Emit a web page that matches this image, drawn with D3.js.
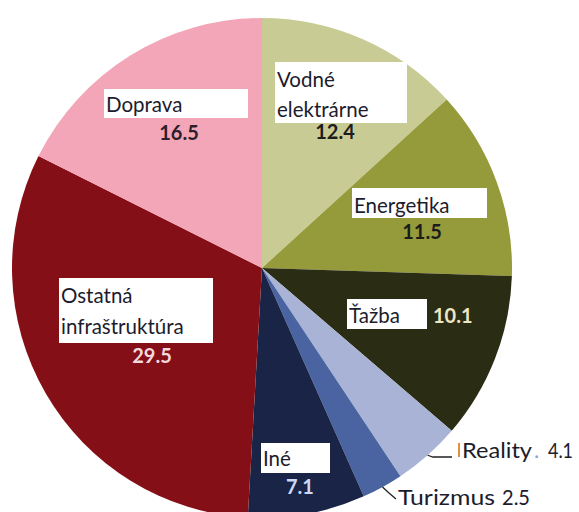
<!DOCTYPE html>
<html lang="sk">
<head>
  <meta charset="UTF-8" />
  <title>Štruktúra</title>
  <script src="https://d3js.org/d3.v7.min.js"></script>
  <style>
    body { margin: 0; background: #fff; }
    svg { display: block; font-family: Lato, "Noto Sans", sans-serif; }
    .lbl { font-size: 20.5px; fill: #1c1c2c; }
    .out { font-size: 22px; fill: #1c1c2c; }
    .val { font-size: 20px; font-weight: bold; }
  </style>
</head>
<body>
  <svg id="chart" width="579" height="512"></svg>

  <script>
    // poradie v smere hodinových ručičiek od 12:00
    const categories = ["Vodné elektrárne", "Energetika", "Ťažba", "Reality", "Turizmus", "Iné", "Ostatná infraštruktúra", "Doprava"];
    const values = [12.4, 11.5, 10.1, 4.1, 2.5, 7.1, 29.5, 16.5];
    const valueLabels = ["12.4", "11.5", "10.1", "4.1", "2.5", "7.1", "29.5", "16.5"];

    const colors = ["#c8cc94", "#959a3b", "#2b2c14", "#a8b3d6", "#4a64a2", "#1a2446", "#850f16", "#f4a6b9"];
    const valueColors = ["#1c1c1c", "#1c1c1c", "#ece6c6", "#1c1c2c", "#1c1c2c", "#cad8f6", "#f2d9dd", "#2a1f2a"];

    // rozloženie popisov (box: x, y, šírka, výška; riadky; hodnota)
    const layout = {
      "Vodné elektrárne":       { box: [275, 62, 132, 61], lines: ["Vodné", "elektrárne"], ly: [87, 117], vx: 335, vy: 139, anchor: "middle" },
      "Energetika":             { box: [352, 188, 135, 30], lines: ["Energetika"], ly: [213], vx: 422, vy: 239, anchor: "middle" },
      "Ťažba":                  { box: [347, 299, 80, 30], lines: ["Ťažba"], ly: [323], vx: 433, vy: 323, anchor: "start" },
      "Iné":                    { box: [261, 443, 69, 30], lines: ["Iné"], ly: [466], vx: 300, vy: 494, anchor: "middle" },
      "Ostatná infraštruktúra": { box: [59, 278, 154, 65], lines: ["Ostatná", "infraštruktúra"], ly: [303, 334], vx: 152, vy: 363, anchor: "middle" },
      "Doprava":                { box: [104, 89, 144, 29], lines: ["Doprava"], ly: [112], vx: 179, vy: 140, anchor: "middle" }
    };
    // vonkajšie popisy s odkazovou čiarou (šírky textu podľa predlohy)
    const outside = {
      "Reality":  { path: [[433, 457], [452, 457]], tx: 462, ty: 458, text: "Reality", tw: 70, vx: 548, vw: 25 },
      "Turizmus": { path: [[389, 493], [396, 499]], tx: 398, ty: 505, text: "Turizmus", tw: 97, vx: 502, vw: 28 }
    };

    const cx = 262, cy = 268, R = 250;
    const svg = d3.select("#chart");
    const g = svg.append("g").attr("transform", `translate(${cx},${cy})`);

    const data = categories.map((c, i) => ({ name: c, value: values[i], label: valueLabels[i], color: colors[i], vcolor: valueColors[i] }));

    const pie = d3.pie().value(d => d.value).sort(null);
    const arc = d3.arc().innerRadius(0).outerRadius(R);
    const arcs = pie(data);

    g.selectAll("path.slice")
      .data(arcs)
      .join("path")
      .attr("class", "slice")
      .attr("d", arc)
      .attr("fill", d => d.data.color);

    // vnútorné popisy
    arcs.forEach(a => {
      const L = layout[a.data.name];
      if (!L) return;
      svg.append("rect")
        .attr("x", L.box[0]).attr("y", L.box[1])
        .attr("width", L.box[2]).attr("height", L.box[3])
        .attr("fill", "#fff");
      L.lines.forEach((t, j) => {
        svg.append("text").attr("class", "lbl")
          .attr("x", L.box[0] + 2).attr("y", L.ly[j]).text(t);
      });
      svg.append("text").attr("class", "val")
        .attr("x", L.vx).attr("y", L.vy)
        .attr("text-anchor", L.anchor)
        .attr("fill", a.data.vcolor)
        .text(a.data.label);
    });

    // vonkajšie popisy
    const edge = d3.arc().innerRadius(R).outerRadius(R);
    arcs.forEach(a => {
      const O = outside[a.data.name];
      if (!O) return;
      const [px, py] = edge.centroid(a);
      const pts = [[cx + px, cy + py], ...O.path];
      svg.append("path")
        .attr("d", d3.line()(pts))
        .attr("fill", "none").attr("stroke", "#222").attr("stroke-width", 1.3);
      if (a.data.name === "Reality") {
        svg.append("line").attr("x1", O.tx - 3).attr("x2", O.tx - 3)
          .attr("y1", O.ty - 15).attr("y2", O.ty - 1)
          .attr("stroke", "#e0903c").attr("stroke-width", 2);
        svg.append("text").attr("class", "out")
          .attr("x", O.tx + O.tw + 2).attr("y", O.ty)
          .style("fill", "#7fa6e0").text(".");
      }
      svg.append("text").attr("class", "out")
        .attr("x", O.tx).attr("y", O.ty)
        .attr("textLength", O.tw).attr("lengthAdjust", "spacingAndGlyphs")
        .text(O.text);
      svg.append("text").attr("class", "out")
        .attr("x", O.vx).attr("y", O.ty)
        .attr("textLength", O.vw).attr("lengthAdjust", "spacingAndGlyphs")
        .text(a.data.label);
    });
  </script>
</body>
</html>
